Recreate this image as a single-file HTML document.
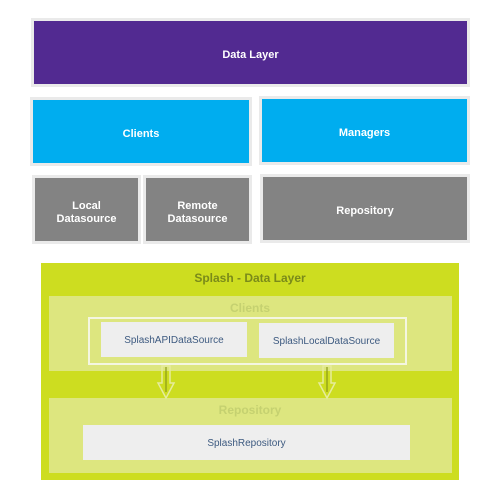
<!DOCTYPE html>
<html><head><style>
body{margin:0;width:500px;height:500px;background:#fff;position:relative;font-family:"Liberation Sans",sans-serif;overflow:hidden}
.b{position:absolute;box-sizing:border-box;display:flex;align-items:center;justify-content:center;text-align:center;font-weight:bold;font-size:11px;color:#fff;line-height:13px;padding-top:6px}
.g{border:3px solid #eaeaea}
.t{position:absolute;left:0;width:500px;text-align:center;font-size:12px;font-weight:bold}
.w{position:absolute;background:#eeeeee;display:flex;align-items:center;justify-content:center;font-size:10px;color:#3d5a80;padding-top:1px;box-sizing:border-box}
</style></head><body>
<div class="b g" style="left:31px;top:18px;width:439px;height:69px;background:#522a91">Data Layer</div>
<div class="b g" style="left:30px;top:97px;width:222px;height:69px;background:#00adef">Clients</div>
<div class="b g" style="left:259px;top:96px;width:211px;height:69px;background:#00adef">Managers</div>
<div class="b g" style="left:32px;top:175px;width:109px;height:69px;background:#838383">Local<br>Datasource</div>
<div class="b g" style="left:143px;top:175px;width:109px;height:69px;background:#838383">Remote<br>Datasource</div>
<div class="b g" style="left:260px;top:174px;width:210px;height:69px;background:#838383">Repository</div>

<div style="position:absolute;left:41px;top:263px;width:418px;height:217px;background:#cddd20"></div>
<div class="t" style="top:271px;color:#7a8a1a">Splash - Data Layer</div>
<div style="position:absolute;left:49px;top:296px;width:403px;height:75px;background:#dde67f"></div>
<div class="t" style="top:301px;color:#c5d170">Clients</div>
<div style="position:absolute;left:88px;top:317px;width:319px;height:48px;box-sizing:border-box;border:2px solid #f4f6e0"></div>
<div class="w" style="left:101px;top:322px;width:146px;height:35px">SplashAPIDataSource</div>
<div class="w" style="left:259px;top:323px;width:135px;height:35px">SplashLocalDataSource</div>
<div style="position:absolute;left:49px;top:398px;width:403px;height:75px;background:#dde67f"></div>
<div class="t" style="top:403px;color:#c5d170">Repository</div>
<div class="w" style="left:83px;top:425px;width:327px;height:35px">SplashRepository</div>
<svg style="position:absolute;left:0;top:0" width="500" height="500">
<g fill="none" stroke="#e6ec9c" stroke-width="1.5">
<polygon points="162,366 170,366 170,383 174,383 166,398 158,383 162,383"/>
<polygon points="323,366 331,366 331,383 335,383 327,398 319,383 323,383"/>
</g>
<g stroke="#8a9a1a" stroke-width="1.2">
<line x1="166" y1="367" x2="166" y2="392"/><line x1="327" y1="367" x2="327" y2="392"/>
</g>
</svg>
</body></html>
